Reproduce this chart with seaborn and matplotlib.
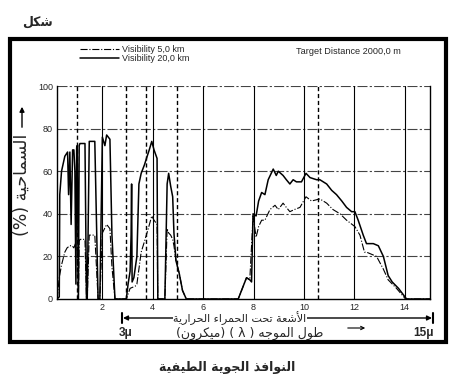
import matplotlib
matplotlib.use("Agg")
import matplotlib.pyplot as plt
import seaborn as sns
from matplotlib.patches import Rectangle

# transmission curves (wavelength in micron, transmission in %)
wl_20km = [0.20, 0.29, 0.31, 0.38, 0.51, 0.62, 0.66, 0.71, 0.76, 0.82, 0.87, 0.91, 0.95, 0.98,
           1.00, 1.05, 1.08, 1.11, 1.31, 1.37, 1.40, 1.48, 1.70, 1.83, 1.90, 2.00, 2.10, 2.17,
           2.30, 2.38, 2.50, 2.95, 3.02, 3.10, 3.14, 3.16, 3.18, 3.25, 3.37, 3.45, 3.54, 3.67,
           3.75, 3.86, 3.96, 4.05, 4.17, 4.20, 4.48, 4.57, 4.63, 4.71, 4.79, 4.84, 4.92, 5.05,
           5.18, 5.33, 7.39, 7.72, 7.85, 7.92, 7.98, 8.10, 8.20, 8.32, 8.45, 8.58, 8.78, 8.90,
           8.98, 9.17, 9.30, 9.44, 9.57, 9.70, 9.90, 10.08, 10.24, 10.50, 10.63, 10.90, 11.10,
           11.29, 11.50, 11.69, 11.89, 12.02, 12.15, 12.35, 12.48, 12.75, 12.95, 13.15, 13.34,
           13.50, 13.75, 14.07, 15.0]
tr_20km = [0, 1, 49, 60, 67, 69, 49, 69, 35, 70, 70, 60, 7, 71,
           72, 0, 72, 73, 73, 0, 0, 74, 74, 0, 0, 76, 72, 77,
           75, 30, 0, 0, 7, 13, 30, 54, 8, 10, 20, 54, 59, 63,
           66, 70, 74, 70, 66, 0, 0, 54, 59, 53, 48, 31, 18, 12,
           4, 0, 0, 10, 9, 8, 40, 39, 46, 50, 49, 56, 61, 58,
           60, 58, 56, 54, 56, 55, 55, 59, 57, 56, 56, 54, 51,
           49, 46, 43, 41, 41, 37, 30, 26, 26, 25, 20, 11,
           8, 5, 0, 0]

wl_5km = [0.20, 0.29, 0.38, 0.51, 0.60, 0.71, 0.80, 0.87, 0.93, 1.00, 1.05, 1.08, 1.11, 1.31,
          1.37, 1.40, 1.48, 1.70, 1.83, 1.90, 2.00, 2.17, 2.30, 2.38, 2.50, 2.95, 3.10, 3.30,
          3.37, 3.54, 3.67, 3.82, 3.96, 4.05, 4.17, 4.20, 4.48, 4.57, 4.63, 4.71, 4.79, 4.84,
          4.92, 5.05, 5.18, 5.33, 7.39, 7.72, 7.85, 7.98, 8.10, 8.20, 8.32, 8.45, 8.65, 8.85,
          8.98, 9.17, 9.30, 9.44, 9.62, 9.84, 10.08, 10.30, 10.63, 10.90, 11.15, 11.43,
          11.69, 12.02, 12.22, 12.40, 12.48, 12.88, 13.15, 13.34, 13.67, 14.03, 15.0]
tr_5km = [0, 10, 16, 22, 24, 25, 25, 24, 26, 26, 0, 27, 28, 28,
          0, 0, 30, 30, 0, 0, 31, 35, 33, 15, 0, 0, 5, 6,
          7, 22, 27, 33, 39, 37, 35, 0, 0, 33, 31, 30, 28, 25,
          18, 12, 4, 0, 0, 10, 9, 39, 29, 34, 37, 37, 42, 44,
          42, 45, 43, 41, 42, 43, 48, 46, 47, 45, 42, 40,
          37, 34, 30, 22, 22, 20, 14, 9, 5, 0, 0]

x_grid = [2, 4, 6, 8, 10, 12, 14]
x_window_edges = [1.0, 2.95, 3.75, 4.95, 10.55]
y_ticks = [0, 20, 40, 60, 80, 100]

# matplotlib does no arabic shaping, so pick presentation forms by hand
FORMS = {
    'ء': '\uFE80', 'أ': '\uFE83\uFE84', 'ا': '\uFE8D\uFE8E', 'ة': '\uFE93\uFE94',
    'ذ': '\uFEAB\uFEAC', 'ر': '\uFEAD\uFEAE', 'و': '\uFEED\uFEEE',
    'ت': '\uFE95\uFE96\uFE97\uFE98', 'ج': '\uFE9D\uFE9E\uFE9F\uFEA0',
    'ح': '\uFEA1\uFEA2\uFEA3\uFEA4', 'س': '\uFEB1\uFEB2\uFEB3\uFEB4',
    'ش': '\uFEB5\uFEB6\uFEB7\uFEB8', 'ط': '\uFEC1\uFEC2\uFEC3\uFEC4',
    'ع': '\uFEC9\uFECA\uFECB\uFECC', 'ف': '\uFED1\uFED2\uFED3\uFED4',
    'ك': '\uFED9\uFEDA\uFEDB\uFEDC', 'ل': '\uFEDD\uFEDE\uFEDF\uFEE0',
    'م': '\uFEE1\uFEE2\uFEE3\uFEE4', 'ن': '\uFEE5\uFEE6\uFEE7\uFEE8',
    'ه': '\uFEE9\uFEEA\uFEEB\uFEEC', 'ي': '\uFEF1\uFEF2\uFEF3\uFEF4',
}
LAM_ALEF = {'ا': '\uFEFB\uFEFC', 'أ': '\uFEF7\uFEF8'}


def ar(s):
    out = []
    i = 0
    while i < len(s):
        ch = s[i]
        if ch not in FORMS:
            out.append(ch)
            i += 1
            continue
        prev = s[i - 1] if i > 0 else ''
        joins_prev = len(FORMS.get(prev, '')) == 4 and len(FORMS[ch]) > 1
        if ch == 'ل' and i + 1 < len(s) and s[i + 1] in LAM_ALEF:
            out.append(LAM_ALEF[s[i + 1]][1 if joins_prev else 0])
            i += 2
            continue
        nxt = s[i + 1] if i + 1 < len(s) else ''
        joins_next = len(FORMS[ch]) == 4 and len(FORMS.get(nxt, '')) > 1
        idx = {(True, True): 3, (True, False): 1, (False, True): 2, (False, False): 0}[(joins_prev, joins_next)]
        out.append(FORMS[ch][idx])
        i += 1
    vis = ''.join(reversed(out))
    return vis.translate(str.maketrans('()', ')('))


sns.set_style("white")
plt.rcParams['font.family'] = ['Liberation Sans', 'DejaVu Sans']
AR_FONT = ['DejaVu Sans']

fig = plt.figure(figsize=(4.54, 3.87), dpi=100)
ax = fig.add_axes([57 / 454, 1 - 299 / 387, 373 / 454, 213 / 387])

for yv in y_ticks[1:]:
    ax.axhline(yv, color='#444444', lw=0.8, ls=(0, (9, 2, 2, 2)), zorder=1)
for xv in x_grid:
    ax.axvline(xv, color='black', lw=0.8, zorder=1)
for xv in x_window_edges:
    ax.axvline(xv, color='black', lw=1.0, ls=(0, (3, 2)), zorder=1)

sns.lineplot(x=wl_5km, y=tr_5km, ax=ax, sort=False, estimator=None, color='black',
             lw=0.8, ls='-.', label='Visibility 5,0 km', zorder=3)
sns.lineplot(x=wl_20km, y=tr_20km, ax=ax, sort=False, estimator=None, color='black',
             lw=1.1, label='Visibility 20,0 km', zorder=3)

ax.set_xlim(0.2, 15)
ax.set_ylim(0, 100)
ax.set_xticks(x_grid)
ax.set_yticks(y_ticks)
ax.tick_params(length=0, labelsize=6.5, pad=3)
ax.spines['top'].set_visible(False)
for side in ['left', 'right', 'bottom']:
    ax.spines[side].set_color('black')
    ax.spines[side].set_linewidth(1.0)

ax.legend(loc='upper left', bbox_to_anchor=(80 / 454, 1 - 45 / 387), bbox_transform=fig.transFigure,
          frameon=False, fontsize=6.5, handlelength=4.3, handletextpad=0.4, labelspacing=0.05,
          borderaxespad=0, borderpad=0)
fig.text(296 / 454, 1 - 52 / 387, 'Target Distance 2000,0 m', fontsize=6.6, va='center')

# outer frame
fig.add_artist(Rectangle((10 / 454, 1 - 342 / 387), 436 / 454, 303 / 387, transform=fig.transFigure,
                         fill=False, lw=3, ec='black'))

fig.text(22 / 454, 1 - 22 / 387, ar('شكل'), family=AR_FONT, fontsize=9, fontweight='bold', va='center')
fig.text(227 / 454, 1 - 367 / 387, ar('النوافذ الجوية الطيفية'), family=AR_FONT, fontsize=9,
         fontweight='bold', ha='center', va='center')

# y label with arrow
fig.text(22 / 454, 1 - 185 / 387, ar('السماحية (%)'), family=AR_FONT, fontsize=12.5, rotation=90,
         ha='center', va='center')
fig.add_artist(plt.Annotation('', xy=(22 / 454, 1 - 104 / 387), xytext=(22 / 454, 1 - 130 / 387),
                              xycoords='figure fraction',
                              arrowprops=dict(arrowstyle='-|>', color='black', lw=1, mutation_scale=7)))

# wavelength annotation under the axis
ann_y = 1 - 318 / 387
fig.add_artist(plt.Annotation('', xy=(123 / 454, ann_y), xytext=(432 / 454, ann_y), xycoords='figure fraction',
                              arrowprops=dict(arrowstyle='<|-|>', color='black', lw=1, mutation_scale=7,
                                              shrinkA=0, shrinkB=0)))
fig.add_artist(plt.Line2D([122 / 454, 122 / 454], [ann_y - 0.012, ann_y + 0.012], color='black', lw=1.5))
fig.add_artist(plt.Line2D([433 / 454, 433 / 454], [ann_y - 0.012, ann_y + 0.012], color='black', lw=1.5))
fig.text(240 / 454, 1 - 318 / 387, ar('الأشعة تحت الحمراء الحرارية'), family=AR_FONT, fontsize=8,
         ha='center', va='center', bbox=dict(fc='white', ec='none', pad=0))
fig.text(126 / 454, 1 - 333 / 387, '3\u03bc', fontsize=8.5, fontweight='bold', ha='center', va='center')
fig.text(423 / 454, 1 - 333 / 387, '15\u03bc', fontsize=8.5, fontweight='bold', ha='center', va='center')
fig.text(250 / 454, 1 - 333 / 387, ar('طول الموجه ( \u03bb ) (ميكرون)'), family=AR_FONT, fontsize=9,
         ha='center', va='center')
fig.add_artist(plt.Annotation('', xy=(368 / 454, 1 - 328 / 387), xytext=(345 / 454, 1 - 328 / 387),
                              xycoords='figure fraction',
                              arrowprops=dict(arrowstyle='->', color='black', lw=0.8, mutation_scale=6)))

fig.savefig('out.png', dpi=100)
